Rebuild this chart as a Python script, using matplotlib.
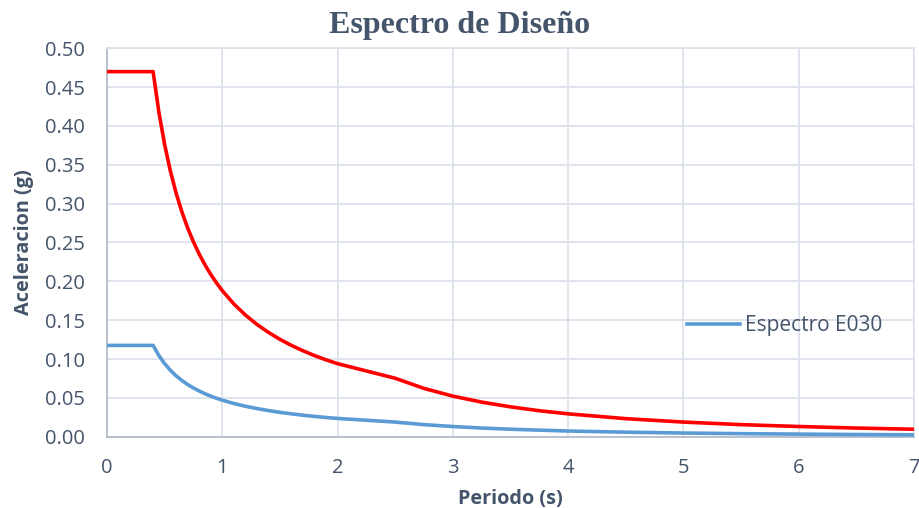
import matplotlib
matplotlib.use('Agg')
import matplotlib.pyplot as plt

# periodo (s) y aceleracion espectral (g)
periodo = [0.0, 0.4, 0.45, 0.5, 0.55, 0.6, 0.65, 0.7, 0.75, 0.8, 0.85, 0.9, 0.95,
           1.0, 1.1, 1.2, 1.3, 1.4, 1.5, 1.6, 1.7, 1.8, 1.9, 2.0, 2.5, 2.75, 3.0,
           3.25, 3.5, 3.75, 4.0, 4.5, 5.0, 5.5, 6.0, 6.5, 7.0]
sa_rojo = [0.4700, 0.4700, 0.4178, 0.3760, 0.3418, 0.3133, 0.2892, 0.2686, 0.2507,
           0.2350, 0.2212, 0.2089, 0.1979, 0.1880, 0.1709, 0.1567, 0.1446, 0.1343,
           0.1253, 0.1175, 0.1106, 0.1044, 0.0989, 0.0940, 0.0752, 0.0621, 0.0522,
           0.0445, 0.0384, 0.0334, 0.0294, 0.0232, 0.0188, 0.0155, 0.0131, 0.0111,
           0.0096]
sa_e030 = [0.1175, 0.1175, 0.1044, 0.0940, 0.0855, 0.0783, 0.0723, 0.0671, 0.0627,
           0.0588, 0.0553, 0.0522, 0.0495, 0.0470, 0.0427, 0.0392, 0.0362, 0.0336,
           0.0313, 0.0294, 0.0276, 0.0261, 0.0247, 0.0235, 0.0188, 0.0155, 0.0131,
           0.0111, 0.0096, 0.0084, 0.0073, 0.0058, 0.0047, 0.0039, 0.0033, 0.0028,
           0.0024]

x_ticks = [0, 1, 2, 3, 4, 5, 6, 7]
y_ticks = [0.00, 0.05, 0.10, 0.15, 0.20, 0.25, 0.30, 0.35, 0.40, 0.45, 0.50]

plt.rcParams['font.family'] = ['Open Sans', 'DejaVu Sans']
texto = '#44546A'
grid_c = '#DDE2EA'

fig = plt.figure(figsize=(9.2, 5.08), dpi=100)
ax = fig.add_axes([0.1163, 0.1404, 0.8772, 0.7645])

ax.plot(periodo, sa_rojo, color='#FF0000', lw=2.6, solid_joinstyle='round', zorder=3)
ax.plot(periodo, sa_e030, color='#5B9BD5', lw=2.6, solid_joinstyle='round',
        label='Espectro E030', zorder=3)

ax.set_xlim(0, 7)
ax.set_ylim(0, 0.5)
ax.set_xticks(x_ticks)
ax.set_yticks(y_ticks)
ax.set_yticklabels(['%.2f' % v for v in y_ticks])
ax.grid(True, color=grid_c, lw=1.3)
ax.set_axisbelow(True)
ax.tick_params(length=0, labelsize=14.5, colors=texto)
ax.tick_params(axis='y', pad=16)
ax.tick_params(axis='x', pad=15)

for s in ['top', 'right']:
    ax.spines[s].set_color(grid_c)
    ax.spines[s].set_linewidth(1.3)
for s in ['left', 'bottom']:
    ax.spines[s].set_color('#B4BCCB')
    ax.spines[s].set_linewidth(1.3)

ax.set_xlabel('Periodo (s)', fontsize=14.3, fontweight='bold', color=texto, labelpad=8)
ax.set_ylabel('Aceleracion (g)', fontsize=14.3, fontweight='bold', color=texto, labelpad=8)

fig.text(0.5, 1 - 26 / 508, 'Espectro de Diseño', ha='center', va='center',
         fontsize=23, fontweight='bold', color=texto, family='Liberation Serif')

leg = ax.legend(loc='center left', bbox_to_anchor=(687 / 920, 1 - 326 / 508),
                bbox_transform=fig.transFigure, frameon=False, fontsize=15,
                handlelength=2.55, handletextpad=0.25, borderpad=0, borderaxespad=0)
for t in leg.get_texts():
    t.set_color(texto)

fig.savefig('out.png', dpi=100)
